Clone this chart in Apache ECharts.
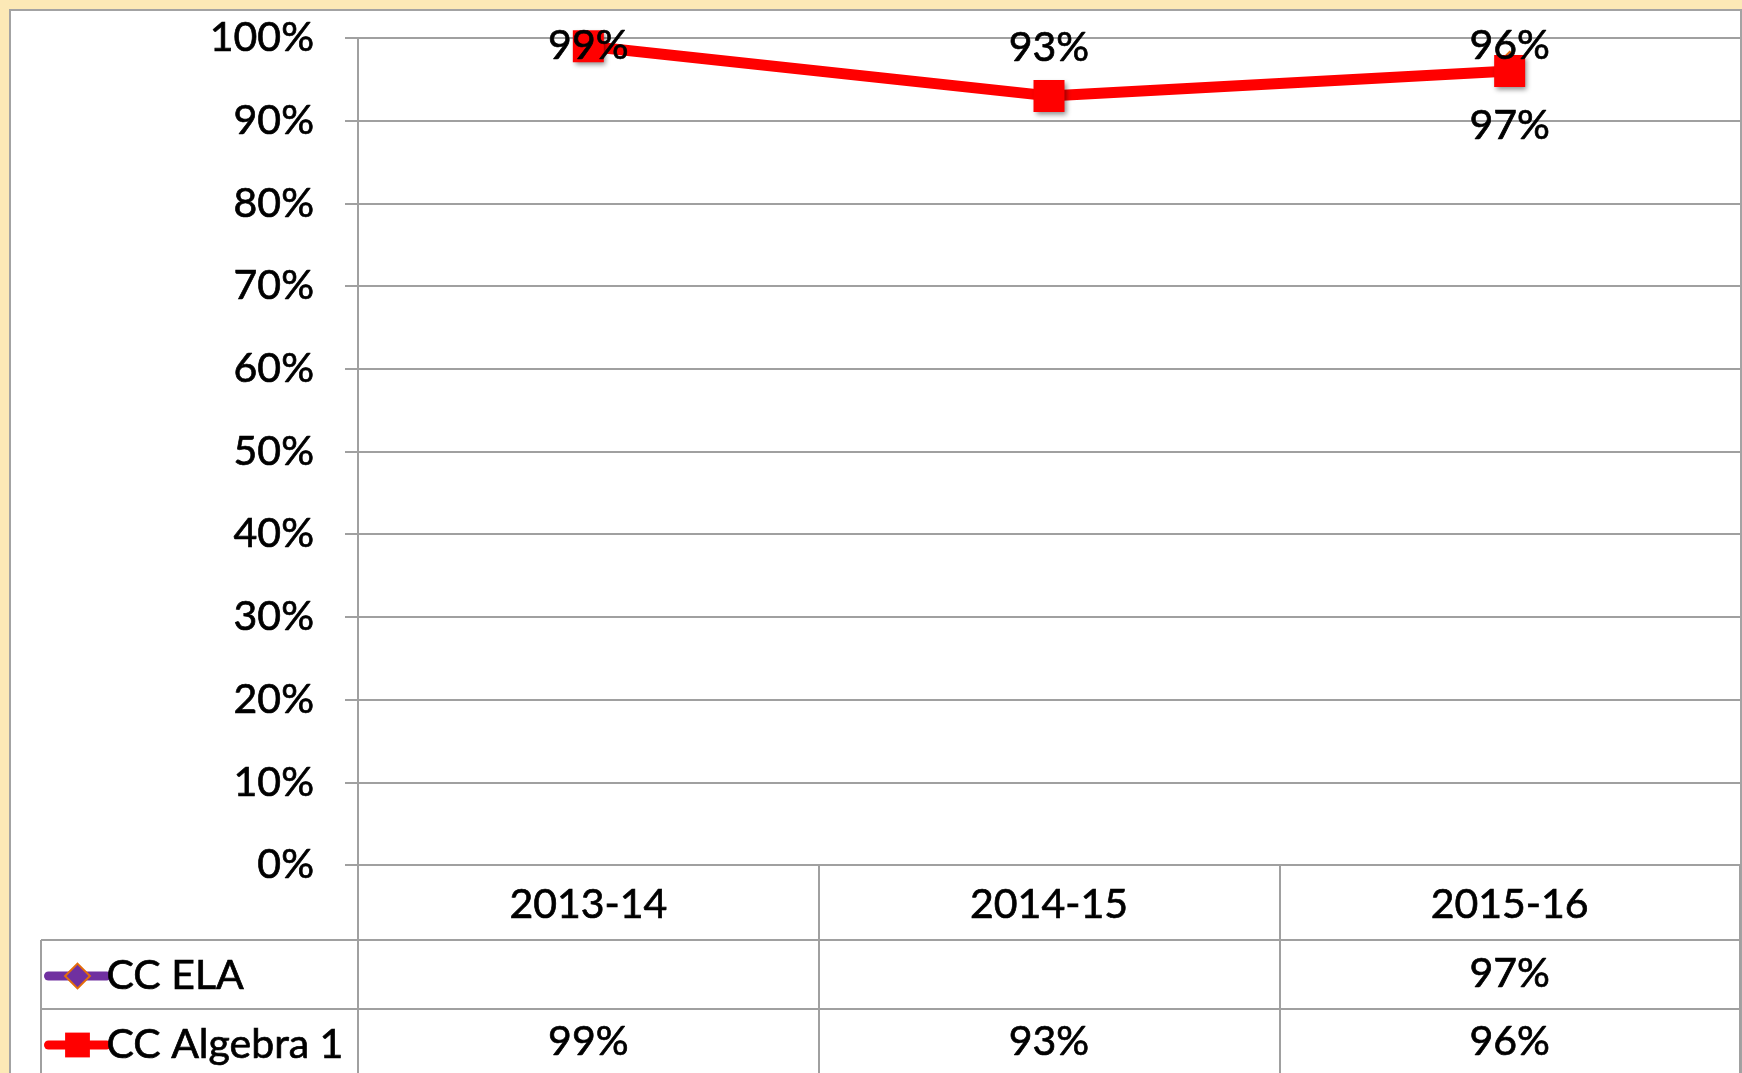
<!DOCTYPE html>
<html>
<head>
<meta charset="utf-8">
<script src="https://cdn.jsdelivr.net/npm/echarts@6.0.0/dist/echarts.min.js"></script>
<style>
html, body { margin: 0; padding: 0; background: #fce9b6; overflow: hidden; }
#box { position: absolute; left: 9px; top: 9px; width: 1729px; height: 1080px; background: #fff; border: 2px solid #a3a3a3; }
#main { position: absolute; left: 0; top: 0; width: 1742px; height: 1073px; }
</style>
</head>
<body>
<div id="box"></div>
<div id="main"></div>
<script>
var years = ['2013-14', '2014-15', '2015-16'];
var elaRate = [null, null, 0.97];
var algebraRate = [0.99, 0.93, 0.96];
var seriesNames = ['CC ELA', 'CC Algebra 1'];

var grey = '#a0a0a0';
var font = 'Lato';
// Lato regular is a bit lighter than the original font, thicken it slightly
var txt = { fontFamily: font, fontSize: 41, color: '#000', textBorderColor: '#000', textBorderWidth: 0.7 };

function pct(v) {
	if (v == null) return '';
	return Math.round(v * 100) + '%';
}

function withTxt(o) {
	var r = {};
	for (var k in txt) r[k] = txt[k];
	for (var k2 in o) r[k2] = o[k2];
	return r;
}

var myChart = echarts.init(document.getElementById('main'));

var option = {
	animation: false,
	textStyle: { fontFamily: font },
	grid: {
		left: 358,
		top: 38,
		right: 2,
		height: 827,
		outerBoundsMode: 'none'
	},
	legend: {
		orient: 'vertical',
		left: 44,
		top: 954,
		height: 200,
		padding: 0,
		itemWidth: 58,
		itemHeight: 31,
		itemGap: 25,
		data: seriesNames,
		lineStyle: { width: 9, cap: 'round' },
		textStyle: withTxt({ lineHeight: 44, padding: [0, 0, 0, -5] })
	},
	xAxis: [{
		// categories, ticks go down through the data table
		type: 'category',
		data: years,
		boundaryGap: true,
		axisLine: { show: true, lineStyle: { color: grey, width: 2 } },
		axisTick: { show: true, length: 212, lineStyle: { color: grey, width: 2 } },
		axisLabel: withTxt({ interval: 0, margin: 19 }),
		splitLine: { show: false }
	}, {
		// data table row: CC ELA
		type: 'category',
		data: years,
		position: 'bottom',
		axisLine: { show: false },
		axisTick: { show: false },
		axisLabel: withTxt({
			interval: 0, margin: 88,
			formatter: function (v, i) { return pct(elaRate[i]); }
		})
	}, {
		// data table row: CC Algebra 1
		type: 'category',
		data: years,
		position: 'bottom',
		axisLine: { show: false },
		axisTick: { show: false },
		axisLabel: withTxt({
			interval: 0, margin: 156,
			formatter: function (v, i) { return pct(algebraRate[i]); }
		})
	}],
	yAxis: {
		type: 'value',
		min: 0,
		max: 1,
		interval: 0.1,
		axisLine: { show: true, lineStyle: { color: grey, width: 2 } },
		axisTick: { show: true, length: 13, lineStyle: { color: grey, width: 2 } },
		axisLabel: withTxt({ margin: 44, formatter: pct }),
		splitLine: { show: true, lineStyle: { color: grey, width: 2 } }
	},
	graphic: [
		{ type: 'line', shape: { x1: 41, y1: 940, x2: 1740, y2: 940 }, style: { stroke: grey, lineWidth: 2 } },
		{ type: 'line', shape: { x1: 41, y1: 1009, x2: 1740, y2: 1009 }, style: { stroke: grey, lineWidth: 2 } },
		{ type: 'line', shape: { x1: 41, y1: 940, x2: 41, y2: 1080 }, style: { stroke: grey, lineWidth: 2 } }
	],
	series: [{
		name: seriesNames[0],
		type: 'line',
		data: elaRate,
		symbol: 'diamond',
		symbolSize: 22,
		lineStyle: { color: '#7030a0', width: 9 },
		itemStyle: { color: '#7030a0', borderColor: '#e46c0a', borderWidth: 2 },
		label: withTxt({
			show: true, position: 'bottom', distance: 30,
			formatter: function (p) { return pct(p.value); }
		})
	}, {
		name: seriesNames[1],
		type: 'line',
		data: algebraRate,
		symbol: 'rect',
		symbolSize: [31, 32],
		lineStyle: { color: '#ff0000', width: 11 },
		itemStyle: {
			color: '#ff0000',
			shadowColor: 'rgba(0,0,0,0.45)', shadowBlur: 5, shadowOffsetX: 2, shadowOffsetY: 3
		},
		label: withTxt({
			show: true, position: 'top', distance: 12,
			formatter: function (p) { return pct(p.value); }
		}),
		// keep labels inside the chart area like the original
		labelLayout: function (p) {
			var r = p.labelRect;
			var cy = r.y + r.height / 2;
			return {
				x: r.x + r.width / 2,
				y: Math.max(cy, 46),
				align: 'center',
				verticalAlign: 'middle'
			};
		}
	}]
};

myChart.setOption(option);
</script>
</body>
</html>
